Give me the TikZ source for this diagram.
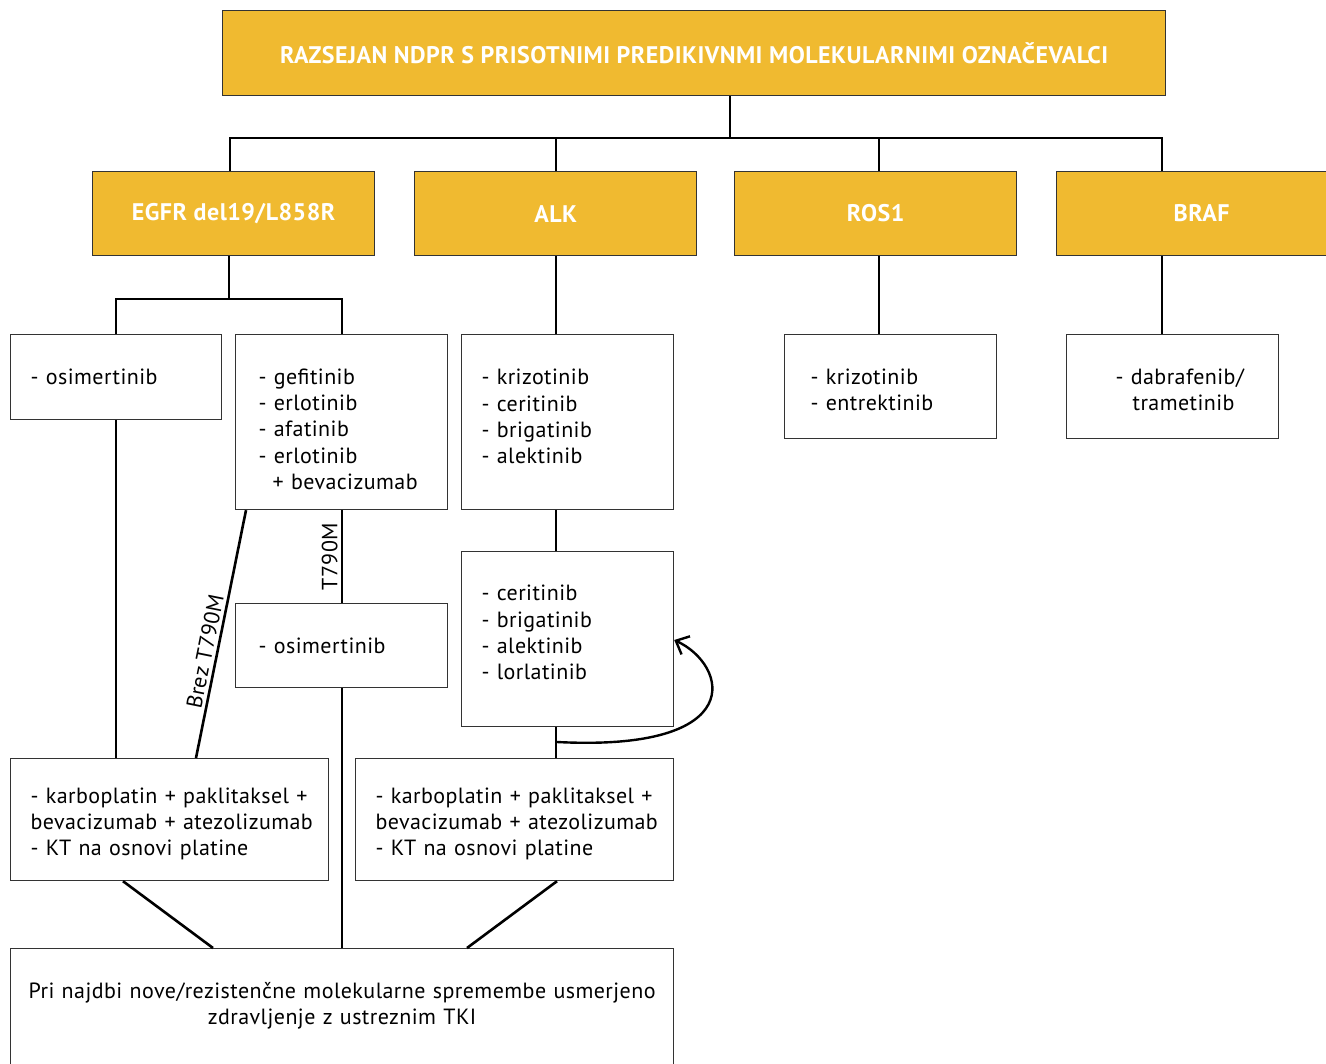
\documentclass[tikz,border=0pt]{standalone}
\usepackage{fontspec}
\setmainfont{PT Sans}[LetterSpace=2]
\usetikzlibrary{arrows.meta}
\definecolor{gold}{HTML}{F0BA30}
\definecolor{bord}{HTML}{333333}
\begin{document}
\begin{tikzpicture}[x=1pt,y=-1pt,
  box/.style={draw=bord, line width=1.2pt, fill=white, rectangle, anchor=north west, inner ysep=0pt, align=left, font=\fontsize{22}{26.3}\selectfont},
  gbox/.style={draw=bord, line width=1.2pt, fill=gold, rectangle, anchor=north west, text=white, font=\bfseries\fontsize{24}{28}\selectfont},
  conn/.style={line width=2.6pt, black},
  lab/.style={font=\fontsize{22}{24}\selectfont, inner sep=3pt}]
\useasboundingbox (0,0) rectangle (1326,1064);

% header and marker boxes
\node[gbox, minimum width=943, minimum height=85] (top) at (222,10) {RAZSEJAN NDPR S PRISOTNIMI PREDIKIVNMI MOLEKULARNIMI OZNAČEVALCI};
\node[gbox, minimum width=282, minimum height=84] (egfr) at (92,171) {EGFR del19/L858R};
\node[gbox, minimum width=282, minimum height=84] (alk) at (414,171) {ALK};
\node[gbox, minimum width=282, minimum height=84] (ros) at (734,171) {ROS1};
\node[gbox, minimum width=290, minimum height=84] (braf) at (1056,171) {BRAF};

% treatment boxes
\node[box, minimum width=211, minimum height=85, text width=171, inner xsep=20] (osi1) at (10,334) {\mbox{- osimertinib}};
\node[box, minimum width=212, minimum height=175, text width=166, inner xsep=23] (gef) at (235,334) {\mbox{}\\[3.7pt]\mbox{- gefitinib}\\\mbox{- erlotinib}\\\mbox{- afatinib}\\\mbox{- erlotinib}\\\mbox{\hspace*{14pt}+ bevacizumab}};
\node[box, minimum width=212, minimum height=175, text width=172, inner xsep=20] (alk1) at (461,334) {\mbox{- krizotinib}\\\mbox{- ceritinib}\\\mbox{- brigatinib}\\\mbox{- alektinib}\\[-15pt]\mbox{}};
\node[box, minimum width=212, minimum height=175, text width=172, inner xsep=20] (alk2) at (461,551) {\mbox{- ceritinib}\\\mbox{- brigatinib}\\\mbox{- alektinib}\\\mbox{- lorlatinib}\\[-13pt]\mbox{}};
\node[box, minimum width=212, minimum height=104, text width=160, inner xsep=26] (ros1b) at (784,334) {\mbox{}\\[-4.3pt]\mbox{- krizotinib}\\\mbox{- entrektinib}};
\node[box, minimum width=212, minimum height=104, text width=114, inner xsep=49] (brafb) at (1066,334) {\mbox{}\\[-4.3pt]\mbox{- dabrafenib/}\\\mbox{\hspace*{17pt}trametinib}};
\node[box, minimum width=212, minimum height=84, text width=166, inner xsep=23] (osi2) at (235,603) {\mbox{- osimertinib}};
\node[box, minimum width=318, minimum height=122, text width=278, inner xsep=20] (kt1) at (10,758) {\mbox{}\\[-2.3pt]\mbox{- karboplatin + paklitaksel +}\\\mbox{bevacizumab + atezolizumab}\\\mbox{- KT na osnovi platine}};
\node[box, minimum width=318, minimum height=122, text width=278, inner xsep=20] (kt2) at (355,758) {\mbox{}\\[-2.3pt]\mbox{- karboplatin + paklitaksel +}\\\mbox{bevacizumab + atezolizumab}\\\mbox{- KT na osnovi platine}};
\node[box, minimum width=663, minimum height=122, text width=655, inner xsep=4, align=center] (fin) at (10,948) {\mbox{Pri najdbi nove/rezistenčne molekularne spremembe usmerjeno}\\\mbox{zdravljenje z ustreznim TKI}\\[-13.3pt]\mbox{}};

% connectors
\coordinate (hb) at (730,138);
\draw[conn] (top.south -| hb) -- (hb);
\draw[conn] (egfr.north -| 230,0) -- (230,138) -- (1162,138) -- (braf.north -| 1162,0);
\draw[conn] (alk.north -| 556,0) -- (556,138);
\draw[conn] (ros.north -| 879,0) -- (879,138);

\draw[conn] (egfr.south -| 229,0) -- (229,299);
\draw[conn] (osi1.north -| 116,0) -- (116,299) -- (342,299) -- (gef.north -| 342,0);
\draw[conn] (osi1.south -| 116,0) -- (kt1.north -| 116,0);
\draw[conn] (kt1.north -| 196,0) -- node[lab, pos=0.42, above, sloped] {Brez T790M} (gef.south -| 246,0);
\draw[conn] (osi2.north -| 342,0) -- node[lab, midway, above, sloped] {T790M} (gef.south -| 342,0);
\draw[conn] (osi2.south -| 342,0) -- (fin.north -| 342,0);

\draw[conn] (alk.south -| 556,0) -- (alk1.north -| 556,0);
\draw[conn] (alk1.south -| 556,0) -- (alk2.north -| 556,0);
\draw[conn] (alk2.south -| 556,0) -- (kt2.north -| 556,0);
\draw[conn] (ros.south -| 879,0) -- (ros1b.north -| 879,0);
\draw[conn] (braf.south -| 1162,0) -- (brafb.north -| 1162,0);

\draw[conn] (kt1.south -| 123,0) -- (fin.north -| 213,0);
\draw[conn] (kt2.south -| 557,0) -- (fin.north -| 467,0);

\coordinate (cs) at (557,742);
\draw[conn, line width=2.4pt, -{Straight Barb[length=11pt,width=20pt,line width=2.4pt]}] (cs) .. controls (750,752) and (728,665) .. (alk2.east |- 0,640);
\end{tikzpicture}
\end{document}
